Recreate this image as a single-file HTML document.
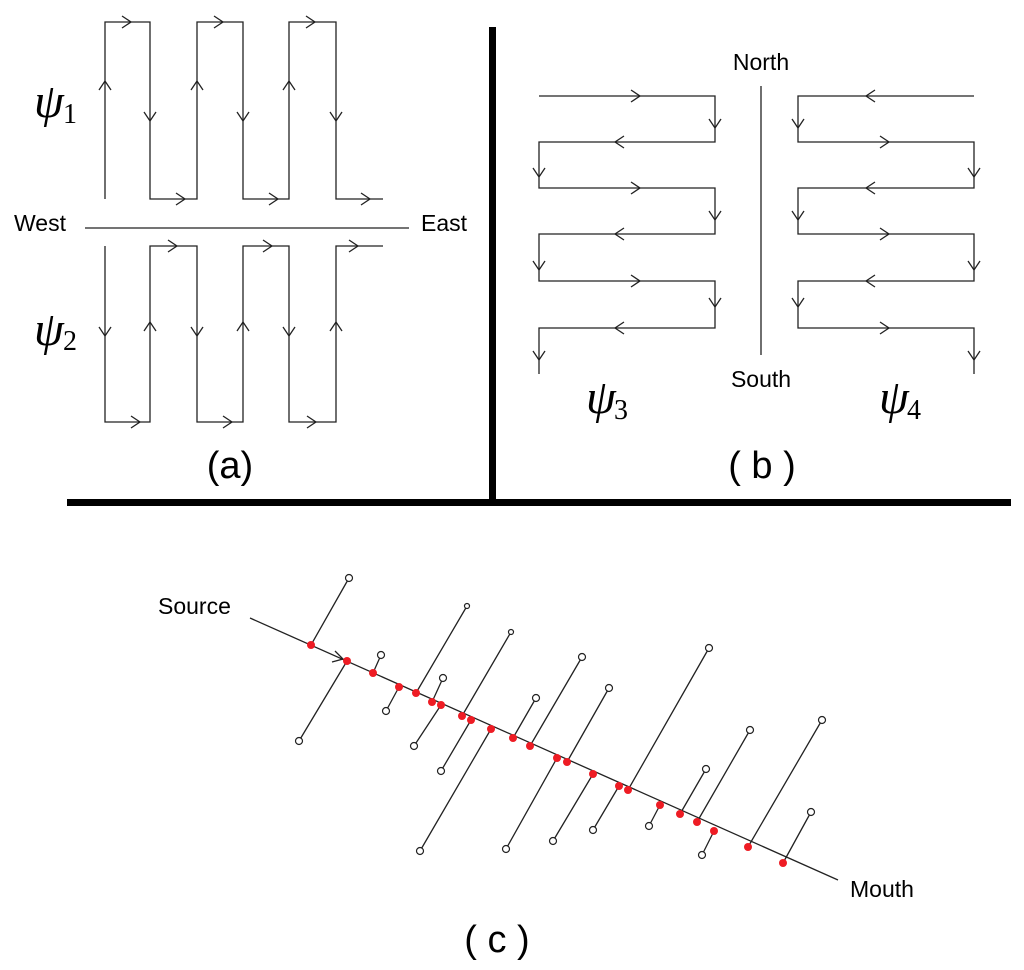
<!DOCTYPE html>
<html><head><meta charset="utf-8"><style>
html,body{margin:0;padding:0;background:#fff;}
svg{display:block;}
text{font-family:"Liberation Sans",sans-serif;}
.psi{font-family:"Liberation Serif",serif;font-style:italic;font-size:48px;}
.sub{font-family:"Liberation Serif",serif;font-size:28px;}
</style></head><body>
<svg width="1024" height="970" viewBox="0 0 1024 970" xmlns="http://www.w3.org/2000/svg">
<g fill="none" stroke="#222" stroke-width="1.3">
<path d="M105 199 V22 H150 V199 H197 V22 H243 V199 H289 V22 H336 V199 H383"/>
<path d="M105 246 V422 H150 V246 H197 V422 H243 V246 H289 V422 H336 V246 H383"/>
<path d="M85 228 H409"/>
<path d="M99 90 L105 81 L111 90 M191 90 L197 81 L203 90 M283 90 L289 81 L295 90"/>
<path d="M144 112 L150 121 L156 112 M237 112 L243 121 L249 112 M330 112 L336 121 L342 112"/>
<path d="M122 16 L131 22 L122 28 M214 16 L223 22 L214 28 M306 16 L315 22 L306 28"/>
<path d="M176 193 L185 199 L176 205 M269 193 L278 199 L269 205 M361 193 L370 199 L361 205"/>
<path d="M99 327 L105 336 L111 327 M191 327 L197 336 L203 327 M283 327 L289 336 L295 327"/>
<path d="M144 331 L150 322 L156 331 M237 331 L243 322 L249 331 M330 331 L336 322 L342 331"/>
<path d="M168 240 L177 246 L168 252 M263 240 L272 246 L263 252 M349 240 L358 246 L349 252"/>
<path d="M131 416 L140 422 L131 428 M223 416 L232 422 L223 428 M307 416 L316 422 L307 428"/>
<path d="M539 96 H715 V142 H539 V188 H715 V234 H539 V281 H715 V328 H539 V374"/>
<path d="M974 96 H798 V142 H974 V188 H798 V234 H974 V281 H798 V328 H974 V374"/>
<path d="M761 86 V355"/>
<path d="M631 90 L640 96 L631 102 M631 182 L640 188 L631 194 M631 275 L640 281 L631 287"/>
<path d="M624 136 L615 142 L624 148 M624 228 L615 234 L624 240 M624 322 L615 328 L624 334"/>
<path d="M709 119 L715 128 L721 119 M709 211 L715 220 L721 211 M709 298 L715 307 L721 298"/>
<path d="M533 168 L539 177 L545 168 M533 261 L539 270 L545 261 M533 351 L539 360 L545 351"/>
<path d="M875 90 L866 96 L875 102 M875 182 L866 188 L875 194 M875 275 L866 281 L875 287"/>
<path d="M880 136 L889 142 L880 148 M880 228 L889 234 L880 240 M880 322 L889 328 L880 334"/>
<path d="M792 119 L798 128 L804 119 M792 211 L798 220 L804 211 M792 298 L798 307 L804 298"/>
<path d="M968 168 L974 177 L980 168 M968 261 L974 270 L980 261 M968 351 L974 360 L980 351"/>
<path d="M250 618 L838 880"/>
<path d="M335 651 L343 659 L332 662"/>
<path d="M311 645 L349 578 M347 661 L299 741 M373 673 L381 655 M399 687 L386 711 M416 693 L467 606 M432 702 L443 678 M441 705 L414 746 M462 716 L511 632 M471 720 L441 771 M491 729 L420 851 M513 738 L536 698 M530 746 L582 657 M557 758 L506 849 M567 762 L609 688 M593 774 L553 841 M619 786 L593 830 M628 790 L709 648 M660 805 L649 826 M680 814 L706 769 M697 822 L750 730 M714 831 L702 855 M748 847 L822 720 M783 863 L811 812"/>
</g>
<g fill="#fff" stroke="#222" stroke-width="1.2">
<circle cx="349" cy="578" r="3.5"/><circle cx="299" cy="741" r="3.5"/><circle cx="381" cy="655" r="3.5"/><circle cx="386" cy="711" r="3.5"/><circle cx="467" cy="606" r="2.5"/><circle cx="443" cy="678" r="3.5"/><circle cx="414" cy="746" r="3.5"/><circle cx="511" cy="632" r="2.5"/><circle cx="441" cy="771" r="3.5"/><circle cx="420" cy="851" r="3.5"/><circle cx="536" cy="698" r="3.5"/><circle cx="582" cy="657" r="3.5"/><circle cx="506" cy="849" r="3.5"/><circle cx="609" cy="688" r="3.5"/><circle cx="553" cy="841" r="3.5"/><circle cx="593" cy="830" r="3.5"/><circle cx="709" cy="648" r="3.5"/><circle cx="649" cy="826" r="3.5"/><circle cx="706" cy="769" r="3.5"/><circle cx="750" cy="730" r="3.5"/><circle cx="702" cy="855" r="3.5"/><circle cx="822" cy="720" r="3.5"/><circle cx="811" cy="812" r="3.5"/>
</g>
<g fill="#ee1c24">
<circle cx="311" cy="645" r="4"/><circle cx="347" cy="661" r="4"/><circle cx="373" cy="673" r="4"/><circle cx="399" cy="687" r="4"/><circle cx="416" cy="693" r="4"/><circle cx="432" cy="702" r="4"/><circle cx="441" cy="705" r="4"/><circle cx="462" cy="716" r="4"/><circle cx="471" cy="720" r="4"/><circle cx="491" cy="729" r="4"/><circle cx="513" cy="738" r="4"/><circle cx="530" cy="746" r="4"/><circle cx="557" cy="758" r="4"/><circle cx="567" cy="762" r="4"/><circle cx="593" cy="774" r="4"/><circle cx="619" cy="786" r="4"/><circle cx="628" cy="790" r="4"/><circle cx="660" cy="805" r="4"/><circle cx="680" cy="814" r="4"/><circle cx="697" cy="822" r="4"/><circle cx="714" cy="831" r="4"/><circle cx="748" cy="847" r="4"/><circle cx="783" cy="863" r="4"/>
</g>
<rect x="489" y="27" width="7" height="476" fill="#000"/>
<rect x="67" y="499" width="944" height="7" fill="#000"/>
<text x="14" y="231" font-size="23">West</text>
<text x="421" y="231" font-size="23">East</text>
<text x="761" y="70" font-size="23" text-anchor="middle">North</text>
<text x="761" y="387" font-size="23" text-anchor="middle">South</text>
<text x="158" y="614" font-size="23">Source</text>
<text x="850" y="897" font-size="23">Mouth</text>
<text x="34" y="117" class="psi">ψ</text><text x="63" y="123" class="sub">1</text>
<text x="34" y="345" class="psi">ψ</text><text x="63" y="350" class="sub">2</text>
<text x="586" y="413" class="psi">ψ</text><text x="614" y="419" class="sub">3</text>
<text x="879" y="413" class="psi">ψ</text><text x="907" y="419" class="sub">4</text>
<text x="230" y="478" font-size="38" text-anchor="middle">(a)</text>
<text x="762" y="478" font-size="38" text-anchor="middle">( b )</text>
<text x="497" y="952" font-size="38" text-anchor="middle">( c )</text>
</svg>
</body></html>
